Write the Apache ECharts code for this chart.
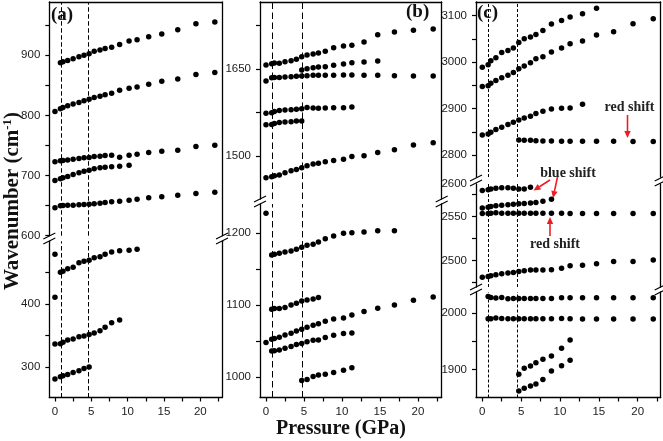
<!DOCTYPE html>
<html><head><meta charset="utf-8">
<script src="https://cdn.jsdelivr.net/npm/echarts@6/dist/echarts.min.js"></script>
<style>html,body{margin:0;padding:0;background:#fff}#c{width:663px;height:441px}</style>
</head><body><div id="c"></div>
<script>
// ---------- DATA ----------
const pressure = [0, 0.75, 1.1, 1.75, 2.5, 3.3, 4.0, 4.7, 5.4, 6.2, 6.9, 7.8, 8.9, 10.2, 11.3, 12.9, 14.7, 16.9, 19.4, 22.0];

// panel (a), upper part
const a1 = [null, 887.4, 889, 891.2, 894, 897.3, 900, 902.2, 906.6, 908.8, 911, 913.2, 917.6, 923.6, 925.8, 930.8, 935.2, 942.3, 952.2, 955];
const a2 = [806.6, 811, 813.2, 816, 818.7, 821.4, 824.2, 826.9, 829.7, 831.9, 834.1, 836.8, 841.8, 845, 847.2, 851.6, 856.6, 860.4, 868.1, 871.4];
const a3 = [722.8, 724.4, 725, 726, 727.2, 728.3, 729.4, 730, 731.6, 732.2, 733.3, 733.8, 730.5, 733.8, 735.5, 738.3, 740.5, 742.1, 748.2, 750.4];
const a4 = [691.7, 694.5, 696.2, 698.4, 701.7, 704.5, 707.3, 708.9, 711.1, 712.8, 713.9, 714.5, 715.6, 717.2];
const a5 = [646.3, 649.7, 650.2, 650.8, 650.8, 651.3, 651.9, 652.4, 653, 654.1, 655.2, 656.3, 657.4, 659.1, 660.7, 663, 664.6, 667.4, 670.1, 672.4];
// panel (a), lower part
const aIsoHigh = [479.2];
const aIsoLow = [411];
const b1 = [null, 450.5, 452.1, 456.4, 458.5, 465.9, 468, 469.6, 473.9, 475.5, 479.2, 482.9, 485.1, 485.6, 487.2];
const b2 = [336.2, 336.7, 338.9, 342.6, 344.2, 347.9, 349, 351.6, 353.7, 357.5, 362.8, 370.2, 374.5];
const b3 = [280.4, 284.1, 285.7, 287.8, 291, 293.7, 297.4, 299.5];

// panel (b), upper part
const c1 = [1656.9, 1659.2, 1660.3, 1659.8, 1662.6, 1664.4, 1666.7, 1671.3, 1674.1, 1675.9, 1677.6, 1680.5, 1686.8, 1689.7, 1690.8, 1696.6, 1709.2, 1713.8, 1716.7, 1719];
const c2 = [null, null, null, null, null, null, null, 1648.3, 1650.6, 1652.3, 1653.4, 1654, 1656.3, 1658.6, 1660.9, 1662.1, 1663.8];
const c3 = [1629.3, 1635.1, 1635.6, 1635.6, 1636.2, 1636.8, 1637.4, 1637.9, 1638.5, 1639.1, 1639.1, 1639.1, 1639.1, 1639.7, 1639.7, 1639.1, 1639.1, 1638.5, 1637.9, 1637.9];
const c4 = [1573.6, 1574.7, 1577, 1578.7, 1579.3, 1579.9, 1580.5, 1581.6, 1583.9, 1582.8, 1582.2, 1582.8, 1583.3, 1583.3, 1584.5];
const c5 = [1554, 1554.6, 1556.3, 1558, 1558.6, 1559.2, 1560.3, 1560.3];
const c6 = [1462.6, 1464.4, 1466.1, 1467.2, 1471.3, 1474.7, 1477, 1479.9, 1483.3, 1486.2, 1487.4, 1490.2, 1492.5, 1494.3, 1499.4, 1500.6, 1506.3, 1510.9, 1519, 1523];
// panel (b), lower part
const bIso = [1227.8];
const d1 = [null, 1169.9, 1170.8, 1172.3, 1174.1, 1175.5, 1177.8, 1180.6, 1183.4, 1184.7, 1188, 1192.6, 1196.3, 1200, 1200.9, 1201.9, 1203.7, 1203.7];
const d2 = [null, 1094.5, 1095.4, 1095.4, 1096.8, 1100.5, 1102.8, 1106, 1107.4, 1108.8, 1110.7];
const d3 = [1048.2, 1052.8, 1053.7, 1055.6, 1058.8, 1061.1, 1064.4, 1066.7, 1069.5, 1072.2, 1074.5, 1077.8, 1081, 1082.4, 1086.6, 1091.2, 1095.8, 1100.5, 1107, 1111.6];
const d4 = [null, 1036.6, 1037, 1038, 1040.3, 1042.6, 1045.4, 1046.8, 1049.5, 1051.4, 1051.9, 1055.1, 1058.3, 1060.7, 1061.6];
const d5 = [null, null, null, null, null, null, null, 995.4, 996.8, 1000.9, 1003.2, 1004.2, 1006.5, 1009.7, 1013.4];

// panel (c), upper part
const e1 = [2989.2, 2994.2, 3002.9, 3009.3, 3020.9, 3025.2, 3030.2, 3042.4, 3050.4, 3054, 3059.7, 3068.3, 3082, 3089.9, 3097.1, 3104.3, 3115.8];
const e2 = [2947.5, 2948.9, 2954.7, 2960.4, 2966.2, 2971.9, 2977.7, 2985.6, 2991.4, 2998.6, 3007.2, 3011.5, 3021.6, 3030.2, 3039.6, 3045.3, 3058.3, 3065.5, 3082.7, 3093.5];
const e3 = [2843.2, 2845.3, 2848.9, 2854.7, 2859.7, 2865.5, 2870.5, 2875.5, 2879.9, 2883.5, 2889.2, 2894.2, 2899.3, 2900.7, 2901.4, 2909.3];
const e4 = [null, null, null, null, null, null, null, 2832.4, 2831.7, 2831.7, 2830.9, 2830.2, 2830.2, 2829.5, 2829.5, 2829.5, 2829.5, 2829.5, 2828.8, 2828.8];
// panel (c), middle part
const f1 = [2579.5, 2580.3, 2581.1, 2582.2, 2582.6, 2582.6, 2582.2, 2581.1, 2581.1, 2583.3];
const f2 = [2559.5, 2560.6, 2561.4, 2562.1, 2562.9, 2563.3, 2564, 2564.4, 2564.8, 2565.2, 2565.9, 2567.4, 2569.7];
const f3 = [2553.4, 2553.4, 2553.8, 2554.2, 2553.8, 2553.8, 2553.8, 2553.8, 2553.8, 2553.8, 2553.8, 2553.8, 2553.8, 2553.8, 2553.4, 2553.4, 2553.4, 2553.4, 2553.4, 2553.4];
const f4 = [2481.1, 2481.9, 2482.7, 2483.8, 2485, 2485.7, 2486.5, 2487.6, 2488.4, 2489.2, 2489.2, 2489.2, 2489.6, 2491.1, 2494.1, 2494.5, 2496.4, 2499, 2499, 2500.5];
// panel (c), lower part
const g1 = [null, 2028.8, 2027.1, 2025.9, 2027.1, 2024.7, 2025.3, 2025.3, 2025.3, 2025.3, 2025.3, 2025.3, 2025.3, 2026.5, 2026.5, 2026.5, 2026.5, 2026.5, 2026.5, 2026.5];
const g2 = [null, 1989.4, 1989.4, 1990.6, 1990, 1989.4, 1989.4, 1989.4, 1989.4, 1989.4, 1989.4, 1989.4, 1989.4, 1990, 1989.4, 1988.8, 1988.8, 1988.8, 1988.8, 1988.8];
const g3 = [null, null, null, null, null, null, null, 1891.2, 1901.8, 1905.9, 1911.8, 1917.6, 1923.5, 1937.1, 1951.8];
const g4 = [null, null, null, null, null, null, null, 1861.8, 1866.5, 1870.6, 1874.1, 1881.8, 1897.1, 1906.5, 1915.9];

// phase-boundary pressures (dashed lines)
const dashA = [0.83, 4.63];
const dashB = [0.88, 4.74];
const dashC = [0.82, 4.5];

// tick values / labels
const xTicks = [0, 2.5, 5, 7.5, 10, 12.5, 15, 17.5, 20, 22.5];
const xLabels = [0, 5, 10, 15, 20];
const aTopTicks = [600, 650, 700, 750, 800, 850, 900, 950];
const aTopLabels = [600, 700, 800, 900];
const aBotTicks = [300, 350, 400, 450];
const aBotLabels = [300, 400];
const bTopTicks = [1500, 1575, 1650, 1725];
const bTopLabels = [1500, 1650];
const bBotTicks = [1000, 1050, 1100, 1150, 1200];
const bBotLabels = [1000, 1100, 1200];
const cTopTicks = [2800, 2850, 2900, 2950, 3000, 3050, 3100];
const cTopLabels = [2800, 2900, 3000, 3100];
const cMidTicks = [2475, 2500, 2525, 2550, 2575];
const cMidLabels = [2500, 2550];
const cBotTicks = [1900, 1950, 2000];
const cBotLabels = [1900, 2000];

// ---------- LAYOUT ----------
const SERIF = '"Liberation Serif","Times New Roman",serif';
const SANS = '"Liberation Sans",Arial,sans-serif';
const BOTTOM = 397.5;
const PA = {left: 49.3, width: 172.7, x: [-0.78, 22.99]};
const PB = {left: 260, width: 181.7, x: [-0.79, 23.12]};
const PC = {left: 476, width: 184.7, x: [-0.81, 22.96]};

const sections = [
  {p: PA, top: 2, bottom: 235.7, y: [600, 988.4], yt: aTopTicks, yl: aTopLabels, pos: 'top', data: [a1, a2, a3, a4, a5], dash: dashA, dp: [4.5, 2.5]},
  {p: PA, top: 241.3, bottom: BOTTOM, y: [251, 500], yt: aBotTicks, yl: aBotLabels, pos: 'bottom', data: [aIsoHigh, aIsoLow, b1, b2, b3], dash: dashA, dp: [4.5, 2.5]},
  {p: PB, top: 2, bottom: 199, y: [1426, 1765.5], yt: bTopTicks, yl: bTopLabels, pos: 'top', data: [c1, c2, c3, c4, c5, c6], dash: dashB, dp: [6.5, 3.5]},
  {p: PB, top: 204, bottom: BOTTOM, y: [971.9, 1240.7], yt: bBotTicks, yl: bBotLabels, pos: 'bottom', data: [bIso, d1, d2, d3, d4, d5], dash: dashB, dp: [6.5, 3.5]},
  {p: PC, top: 2, bottom: 177, y: [2752.6, 3129.5], yt: cTopTicks, yl: cTopLabels, pos: 'top', data: [e1, e2, e3, e4], dash: dashC, dp: [3, 2]},
  {p: PC, top: 184, bottom: 287, y: [2469.9, 2586.9], yt: cMidTicks, yl: cMidLabels, pos: 'mid', data: [f1, f2, f3, f4], dash: dashC, dp: [3, 2], topLabel: '2600'},
  {p: PC, top: 292, bottom: BOTTOM, y: [1850.2, 2036.7], yt: cBotTicks, yl: cBotLabels, pos: 'bottom', data: [g1, g2, g3, g4], dash: dashC, dp: [3, 2]}
];

function pts(vals) {
  const out = [];
  vals.forEach((v, i) => { if (v != null) out.push([pressure[i], v]); });
  return out;
}

const grids = [], xAxes = [], yAxes = [], series = [];
const AX = {color: '#000', width: 1.3};
sections.forEach((s, i) => {
  grids.push({left: s.p.left, width: s.p.width, top: s.top, height: s.bottom - s.top, containLabel: false});
  const isBottom = s.pos === 'bottom';
  xAxes.push({
    gridIndex: i, type: 'value', min: s.p.x[0], max: s.p.x[1],
    show: s.pos !== 'mid', position: isBottom ? 'bottom' : 'top',
    axisLine: {show: true, onZero: false, lineStyle: AX},
    axisTick: isBottom ? {show: true, customValues: xTicks, length: 4, lineStyle: {color: '#000', width: 1.2}} : {show: false},
    axisLabel: isBottom ? {show: true, customValues: xLabels, margin: 8, fontFamily: SANS, fontSize: 11.5, color: '#222'} : {show: false},
    splitLine: {show: false}
  });
  const labels = s.topLabel ? s.yl.concat([s.y[1]]) : s.yl;
  yAxes.push({
    gridIndex: i, type: 'value', min: s.y[0], max: s.y[1], position: 'left',
    axisLine: {show: true, onZero: false, lineStyle: AX},
    axisTick: {show: true, customValues: s.yt, length: 4, lineStyle: {color: '#000', width: 1.2}},
    axisLabel: {show: true, customValues: labels, margin: 9, fontFamily: SANS, fontSize: 11.5, color: '#222',
      formatter: (v) => (s.topLabel && Math.abs(v - s.y[1]) < 1e-6) ? s.topLabel : String(Math.round(v))},
    splitLine: {show: false}
  });
  yAxes.push({
    gridIndex: i, type: 'value', min: s.y[0], max: s.y[1], position: 'right',
    axisLine: {show: true, onZero: false, lineStyle: AX},
    axisTick: {show: false}, axisLabel: {show: false}, splitLine: {show: false}
  });
  s.data.forEach((arr, k) => {
    const ser = {
      type: 'scatter', xAxisIndex: i, yAxisIndex: 2 * i, data: pts(arr),
      symbol: 'circle', symbolSize: 5.5, itemStyle: {color: '#000', opacity: 1}, silent: true
    };
    if (k === 0) {
      ser.markLine = {
        silent: true, symbol: ['none', 'none'], label: {show: false},
        lineStyle: {color: '#000', width: 1, type: s.dp, opacity: 1},
        data: s.dash.map(v => ({xAxis: v}))
      };
    }
    series.push(ser);
  });
});

// ---------- DECORATIONS ----------
const graphic = [];
// axis breaks
function breakMark(x, y) {
  [-2.5, 2.5].forEach(d => {
    graphic.push({type: 'line', silent: true, z: 100,
      shape: {x1: x - 6, y1: y + d + 3, x2: x + 6, y2: y + d - 3},
      style: {stroke: '#000', lineWidth: 1.2}});
  });
}
for (let i = 0; i < sections.length - 1; i++) {
  const s = sections[i], n = sections[i + 1];
  if (s.p !== n.p) continue;
  const y = (s.bottom + n.top) / 2;
  breakMark(s.p.left, y);
  breakMark(s.p.left + s.p.width, y);
}
// panel letters
[['(a)', 51, 6], ['(b)', 406, 3], ['(c)', 477, 4]].forEach(t => {
  graphic.push({type: 'text', left: t[1], top: t[2], silent: true,
    style: {text: t[0], font: 'bold 19px ' + SERIF, fill: '#111'}});
});
// axis titles
graphic.push({type: 'text', silent: true, x: 13, y: 201, rotation: Math.PI / 2,
  style: {text: 'Wavenumber (cm{s|-1})', font: 'bold 21px ' + SERIF, fill: '#111',
    align: 'center', verticalAlign: 'middle',
    rich: {s: {font: 'bold 13px ' + SERIF, fill: '#111', padding: [0, 0, 11, 0]}}}});
graphic.push({type: 'text', silent: true, x: 341, y: 429,
  style: {text: 'Pressure (GPa)', font: 'bold 20px ' + SERIF, fill: '#111', align: 'center', verticalAlign: 'middle'}});
// annotations
[['red shift', 629.5, 107], ['blue shift', 568, 173], ['red shift', 555, 244]].forEach(t => {
  graphic.push({type: 'text', silent: true, x: t[1], y: t[2],
    style: {text: t[0], font: 'bold 14px ' + SERIF, fill: '#222', align: 'center', verticalAlign: 'middle'}});
});
function arrow(x1, y1, x2, y2) {
  const RED = '#ee1c24';
  const dx = x2 - x1, dy = y2 - y1, L = Math.hypot(dx, dy), ux = dx / L, uy = dy / L;
  const hl = 7, hw = 3.2;
  const bx = x2 - ux * hl, by = y2 - uy * hl;
  graphic.push({type: 'line', silent: true, shape: {x1: x1, y1: y1, x2: bx, y2: by}, style: {stroke: RED, lineWidth: 1.6}});
  graphic.push({type: 'polygon', silent: true,
    shape: {points: [[x2, y2], [bx - uy * hw, by + ux * hw], [bx + uy * hw, by - ux * hw]]},
    style: {fill: RED}});
}
arrow(627.5, 115, 627.5, 138);
arrow(550, 180, 533.5, 190.5);
arrow(557.5, 177, 553, 198);
arrow(550, 236, 550, 217);

const chart = echarts.init(document.getElementById('c'));
chart.setOption({
  animation: false,
  backgroundColor: '#fff',
  grid: grids, xAxis: xAxes, yAxis: yAxes, series: series, graphic: graphic
});
</script></body></html>
